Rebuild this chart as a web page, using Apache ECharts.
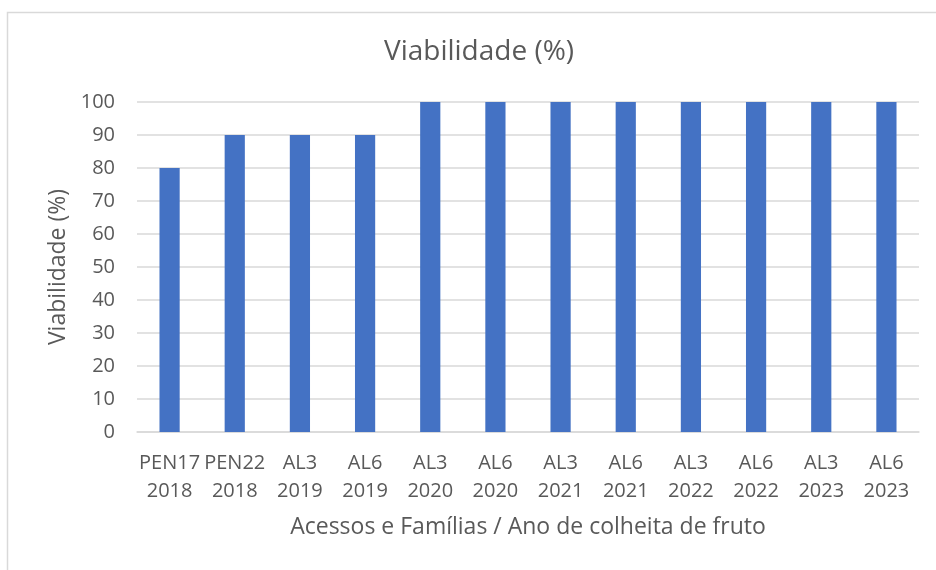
<!DOCTYPE html>
<html>
<head>
<meta charset="utf-8">
<script src="https://cdn.jsdelivr.net/npm/echarts@6/dist/echarts.min.js"></script>
<style>
  html, body { margin: 0; padding: 0; background: #fff; }
  #chart { width: 936px; height: 570px; }
</style>
</head>
<body>
<div id="chart"></div>
<script>
const acessos = ['PEN17', 'PEN22', 'AL3', 'AL6', 'AL3', 'AL6', 'AL3', 'AL6', 'AL3', 'AL6', 'AL3', 'AL6']
const anos = ['2018', '2018', '2019', '2019', '2020', '2020', '2021', '2021', '2022', '2022', '2023', '2023']
const viabilidade = [80, 90, 90, 90, 100, 100, 100, 100, 100, 100, 100, 100]

const textColor = '#595959'
const fontFamily = '"Open Sans", "Noto Sans", sans-serif'
const categories = acessos.map((a, i) => a + '\n' + anos[i])

const chart = echarts.init(document.getElementById('chart'), null, { renderer: 'canvas' })

chart.setOption({
  animation: false,
  textStyle: { fontFamily },
  title: {
    text: 'Viabilidade (%)',
    left: 474,
    top: 33,
    textAlign: 'center',
    textStyle: { color: textColor, fontSize: 28, fontWeight: 'normal', fontFamily }
  },
  graphic: [{
    type: 'rect',
    shape: { x: 7.5, y: 12.5, width: 940, height: 570 },
    style: { fill: null, stroke: '#d9d9d9', lineWidth: 1.5 },
    silent: true
  }],
  grid: { left: 137, right: 17, top: 102, bottom: 138, containLabel: false },
  xAxis: {
    type: 'category',
    data: categories,
    axisTick: { show: false },
    axisLine: { show: true, lineStyle: { color: '#d9d9d9', width: 1.5 } },
    axisLabel: { color: textColor, fontSize: 20, lineHeight: 28, margin: 17, interval: 0, fontFamily },
    name: 'Acessos e Famílias / Ano de colheita de fruto',
    nameLocation: 'middle',
    nameGap: 84,
    nameTextStyle: { color: textColor, fontSize: 23, fontFamily }
  },
  yAxis: {
    type: 'value',
    min: 0,
    max: 100,
    interval: 10,
    axisLine: { show: false },
    axisTick: { show: false },
    splitLine: { lineStyle: { color: '#d9d9d9', width: 1.5 } },
    axisLabel: { color: textColor, fontSize: 20, margin: 22, fontFamily },
    name: 'Viabilidade (%)',
    nameLocation: 'middle',
    nameGap: 67,
    nameTextStyle: { color: textColor, fontSize: 23, fontFamily }
  },
  series: [{
    type: 'bar',
    data: viabilidade,
    barWidth: '31%',
    itemStyle: { color: '#4472c4' }
  }]
})
</script>
</body>
</html>
